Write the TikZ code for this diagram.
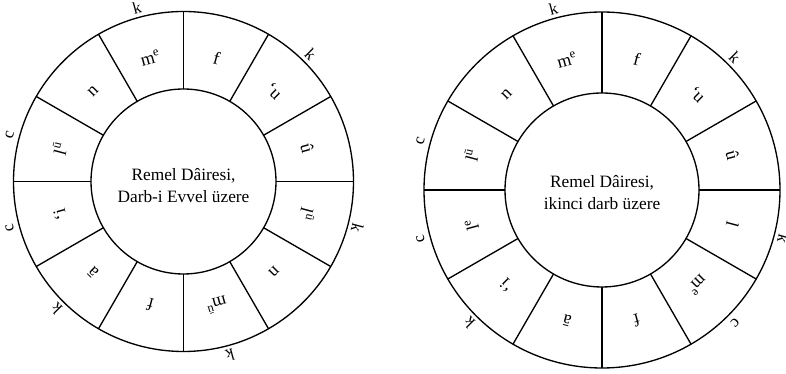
\documentclass[tikz,border=0pt]{standalone}
\usepackage{fontspec}
\setmainfont{Liberation Serif}
\usepackage{tikz}

\begin{document}
\begin{tikzpicture}[x=0.75pt, y=0.75pt,
      ring/.style={line width=1pt},
      seg/.style={font=\fontsize{13.5}{13.5}\selectfont, inner sep=0pt},
      beat/.style={font=\fontsize{12.5}{12.5}\selectfont, inner sep=0pt},
      dname/.style={align=center, font=\fontsize{13}{17}\selectfont}
    ]
      \useasboundingbox (0,0) rectangle (786,374);
      \coordinate (lc) at (183.5,192.5);
      \coordinate (rc) at (602,184);

      % Left circle: Darb-i Evvel
      \draw[ring] (lc) circle (170);
      \draw[ring] (lc) circle (92.5);
      \foreach \a in {0,30,...,330}
        \draw[ring] ([shift={(\a:92.5)}]lc) -- ([shift={(\a:170)}]lc);
      \node[dname] (lname) at ([yshift=-3]lc)
        {Remel Dâiresi,\\Darb-i Evvel üzere};
      \foreach \a/\t in {15/û, 45/‘u, 75/f, 105/m\textsuperscript{e},
          135/n, 165/l\textsuperscript{ū}, 195/‘i, 225/ā, 255/f,
          285/m\textsuperscript{ū}, 315/n, 345/l\textsuperscript{ū}}
        \node[seg, rotate=\a-90] (l\a) at ([shift={(\a:128)}]lc) {\t};
      \foreach \a/\t in {45/k, 105/k, 165/c, 195/c, 225/k, 285/k, 345/k}
        \node[beat, rotate=\a-90] (lb\a) at ([shift={(\a:180)}]lc) {\t};

      % Right circle: ikinci darb
      \draw[ring] (rc) circle (178);
      \draw[ring] (rc) circle (97);
      \foreach \a in {0,30,...,330}
        \draw[ring] ([shift={(\a:97)}]rc) -- ([shift={(\a:178)}]rc);
      \node[dname] (rname) at ([yshift=-2]rc)
        {Remel Dâiresi,\\ikinci darb üzere};
      \foreach \a/\t in {15/û, 45/‘u, 75/f, 105/m\textsuperscript{e},
          135/n, 165/l\textsuperscript{ū}, 195/l\textsuperscript{e}, 225/‘i,
          255/ā, 285/f, 315/m\textsuperscript{e}, 345/l}
        \node[seg, rotate=\a-90] (r\a) at ([shift={(\a:135)}]rc) {\t};
      \foreach \a/\t in {45/k, 105/k, 165/c, 195/c, 225/k, 315/c, 345/k}
        \node[beat, rotate=\a-90] (rb\a) at ([shift={(\a:188)}]rc) {\t};
    \end{tikzpicture}
\end{document}
